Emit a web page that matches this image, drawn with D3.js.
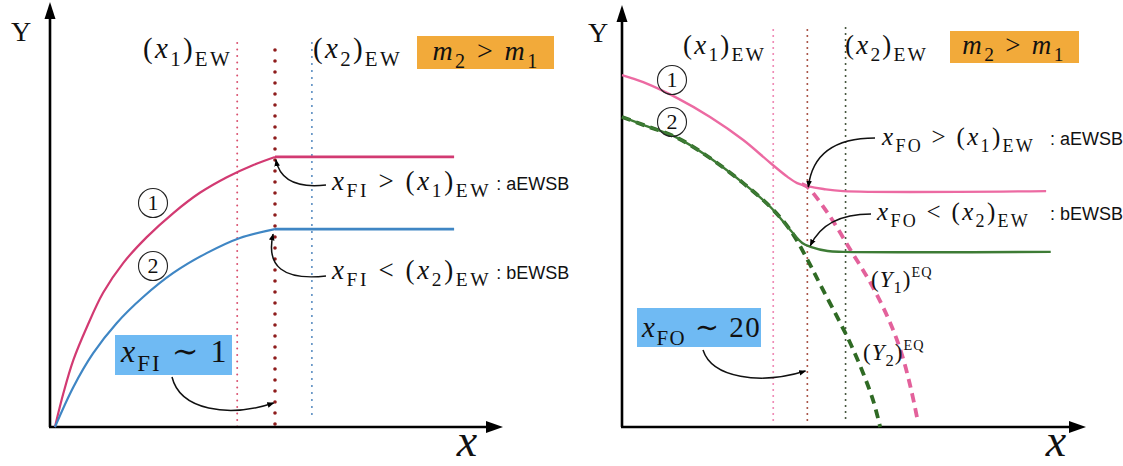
<!DOCTYPE html>
<html>
<head>
<meta charset="utf-8">
<script src="https://cdn.jsdelivr.net/npm/d3@7"></script>
<style>
  html, body { margin: 0; padding: 0; background: #fff; }
  svg { display: block; }
</style>
</head>
<body>
<svg id="chart" width="1123" height="466"></svg>
<script>
// ---------- data (arbitrary units, both axes 0..10) ----------
// Left panel: freeze-in yields
const fiCurve1 = [[0.11,0],[0.30,0.81],[0.52,1.59],[0.82,2.37],[1.18,3.18],[1.63,3.89],[2.15,4.50],[2.74,5.07],[3.33,5.55],[3.93,5.92],[4.52,6.21],[5.00,6.40]];
const fiCurve2 = [[0.11,0],[0.52,0.95],[0.96,1.75],[1.48,2.46],[2.07,3.08],[2.74,3.65],[3.48,4.12],[4.22,4.48],[5.00,4.69]];
const fiPlateau = [6.40, 4.69];          // final yields of curves 1 and 2
const fiPlateauEnd = 8.98;
const fiMarkers = [4.16, 5.00, 5.82];    // (x1)EW, xFI, (x2)EW

// Right panel: freeze-out yields
const foCurve1 = [[0,8.40],[0.46,8.23],[1.20,7.85],[1.91,7.40],[2.63,6.85],[3.22,6.30],[3.59,5.97],[3.80,5.82],[4.02,5.75],[4.37,5.68],[4.80,5.63],[9.20,5.63]];
const foCurve2 = [[0,7.40],[0.46,7.21],[1.20,6.90],[1.91,6.42],[2.63,5.82],[3.22,5.25],[3.65,4.70],[3.91,4.39],[4.09,4.30],[4.46,4.20],[4.80,4.18],[9.30,4.18]];
const foEq1 = [[3.90,5.80],[4.02,5.73],[4.46,5.11],[4.96,4.22],[5.39,3.44],[5.76,2.63],[6.04,1.84],[6.26,0.95],[6.41,0.17]];
const foEq2 = [[0,7.40],[0.46,7.21],[1.20,6.90],[1.91,6.42],[2.63,5.82],[3.22,5.25],[3.65,4.70],[4.02,4.00],[4.30,3.40],[4.67,2.62],[4.96,1.98],[5.24,1.26],[5.46,0.59],[5.60,0]];
const foMarkers = [3.28, 4.02, 4.85];    // (x1)EW, xFO, (x2)EW

const SERIF = "'Liberation Serif', 'DejaVu Serif', serif";
const SANS  = "'Liberation Sans Narrow', 'Liberation Sans', Arial, sans-serif";
const SP = '\u2005';                      // relation spacing

const svg = d3.select('#chart');

const defs = svg.append('defs');
defs.append('marker').attr('id','head').attr('viewBox','0 0 10 10')
  .attr('refX',9).attr('refY',5).attr('markerWidth',7).attr('markerHeight',7)
  .attr('orient','auto-start-reverse').attr('markerUnits','userSpaceOnUse')
  .append('path').attr('d','M0,1 L10,5 L0,9 Z').attr('fill','#000');

// math-style text: segments [text, kind]
function mathText(g, x, y, segs, size, ls, anchor) {
  const t = g.append('text').attr('x', x).attr('y', y)
    .attr('font-family', SERIF).attr('font-size', size).attr('fill', '#111')
    .attr('letter-spacing', ls || 0)
    .attr('text-anchor', anchor || 'start');
  let off = 0;
  segs.forEach(([s, k]) => {
    let target = 0, fs = size, style = 'normal', fam = SERIF, sp = ls || 0;
    if (k === 'i') style = 'italic';
    if (k === 'sub')  { target = size * 0.27; fs = size * 0.72; }
    if (k === 'sup')  { target = -size * 0.45; fs = size * 0.62; }
    if (k === 'sans') { fam = SANS; fs = 18; sp = 0; }
    t.append('tspan').text(s).attr('dy', target - off)
      .attr('font-size', fs).attr('font-style', style).attr('font-family', fam)
      .attr('letter-spacing', sp);
    off = target;
  });
  return t;
}

function axes(g, x, y) {
  const [x0, x1] = x.range(), [y0, y1] = y.range();
  g.append('line').attr('x1', x0).attr('y1', y0).attr('x2', x0).attr('y2', y1 + 10)
    .attr('stroke', '#000').attr('stroke-width', 2.6);
  g.append('line').attr('x1', x0 - 1).attr('y1', y0).attr('x2', x1 - 10).attr('y2', y0)
    .attr('stroke', '#000').attr('stroke-width', 2.6);
  g.append('path').attr('d', `M${x0},${y1 - 3} L${x0 - 5.5},${y1 + 14} L${x0 + 5.5},${y1 + 14} Z`).attr('fill', '#000');
  g.append('path').attr('d', `M${x1 + 3},${y0} L${x1 - 14},${y0 - 6} L${x1 - 14},${y0 + 6} Z`).attr('fill', '#000');
}

function circled(g, cx, cy, label) {
  g.append('circle').attr('cx', cx).attr('cy', cy).attr('r', 14.5)
    .attr('fill', 'none').attr('stroke', '#222').attr('stroke-width', 1.1);
  g.append('text').attr('x', cx).attr('y', cy + 7).attr('text-anchor', 'middle')
    .attr('font-family', SERIF).attr('font-size', 22).attr('fill', '#111').text(label);
}

function box(g, x0, y0, w, h, fill) {
  g.append('rect').attr('x', x0).attr('y', y0).attr('width', w).attr('height', h).attr('fill', fill);
}

function arrow(g, d) {
  g.append('path').attr('d', d).attr('fill', 'none').attr('stroke', '#111')
    .attr('stroke-width', 1.5).attr('marker-end', 'url(#head)');
}

const line = (x, y) => d3.line().x(d => x(d[0])).y(d => y(d[1])).curve(d3.curveCatmullRom.alpha(0.5));

// ================= left panel =================
{
  const g = svg.append('g');
  const x = d3.scaleLinear().domain([0, 10]).range([50, 500]);
  const y = d3.scaleLinear().domain([0, 10]).range([427, 5]);

  // vertical markers
  const mStyle = [
    { c: '#d9506e', w: 2.0, dash: '0,6.5', top: 43, bot: 427 },
    { c: '#8e1c1c', w: 3.6, dash: '0,11', top: 50, bot: 426 },
    { c: '#4f85bd', w: 2.0, dash: '0,7', top: 43, bot: 418 }
  ];
  fiMarkers.forEach((m, i) => {
    const s = mStyle[i];
    g.append('line').attr('x1', x(m)).attr('x2', x(m)).attr('y1', s.top).attr('y2', s.bot)
      .attr('stroke', s.c).attr('stroke-width', s.w).attr('stroke-linecap', 'round')
      .attr('stroke-dasharray', s.dash);
  });

  axes(g, x, y);

  const colors = ['#d23a72', '#3f86c4'];
  [fiCurve1, fiCurve2].forEach((c, i) => {
    g.append('path').attr('d', line(x, y)(c)).attr('fill', 'none')
      .attr('stroke', colors[i]).attr('stroke-width', 2.2);
    const last = c[c.length - 1];
    g.append('line').attr('x1', x(last[0])).attr('y1', y(fiPlateau[i]))
      .attr('x2', x(fiPlateauEnd)).attr('y2', y(fiPlateau[i]))
      .attr('stroke', colors[i]).attr('stroke-width', 2.8);
  });

  circled(g, 153, 203, '1');
  circled(g, 153, 266, '2');

  g.append('text').attr('x', 21).attr('y', 41).attr('text-anchor', 'middle')
    .attr('font-family', SERIF).attr('font-size', 28).attr('fill', '#111').text('Y');
  g.append('text').attr('x', 467).attr('y', 456).attr('text-anchor', 'middle')
    .attr('font-family', SERIF).attr('font-style', 'italic').attr('font-size', 46).attr('fill', '#111').text('x');

  mathText(g, 143, 58, [['(', 'r'], ['x', 'i'], ['1', 'sub'], [')', 'r'], ['EW', 'sub']], 29, 2.3);
  mathText(g, 313, 58, [['(', 'r'], ['x', 'i'], ['2', 'sub'], [')', 'r'], ['EW', 'sub']], 29, 2.3);

  box(g, 417, 36, 137, 33, '#f2aa3a');
  mathText(g, 486, 60, [['m', 'i'], ['2', 'sub'], [SP + '>' + SP, 'r'], ['m', 'i'], ['1', 'sub']], 28, 2.4, 'middle');

  mathText(g, 332, 190, [['x', 'i'], ['FI', 'sub'], [SP + '>' + SP + '(', 'r'], ['x', 'i'], ['1', 'sub'], [')', 'r'], ['EW', 'sub'], [' : aEWSB', 'sans']], 27, 2.6);
  mathText(g, 332, 279, [['x', 'i'], ['FI', 'sub'], [SP + '<' + SP + '(', 'r'], ['x', 'i'], ['2', 'sub'], [')', 'r'], ['EW', 'sub'], [' : bEWSB', 'sans']], 27, 2.6);

  box(g, 115, 335, 117, 40, '#6fbaf3');
  mathText(g, 121, 362, [['x', 'i'], ['FI', 'sub'], [SP + '\u223C' + SP + '1', 'r']], 32, 2);

  arrow(g, `M326,185 Q282,190 ${x(5.02)},${y(6.40) + 3}`);
  arrow(g, `M326,276 Q262,283 ${x(4.98) - 1},${y(4.69) + 5}`);
  arrow(g, `M172,377 C180,410 228,418 ${x(4.97)},${403}`);
}

// ================= right panel =================
{
  const g = svg.append('g');
  const x = d3.scaleLinear().domain([0, 10]).range([622, 1083]);
  const y = d3.scaleLinear().domain([0, 10]).range([427, 8]);

  const mStyle = [
    { c: '#ee7fae', w: 2.0, dash: '0,6', top: 30, bot: 422 },
    { c: '#a44a3c', w: 2.0, dash: '0,6', top: 30, bot: 423 },
    { c: '#3b4d33', w: 2.0, dash: '0,6', top: 28, bot: 422 }
  ];
  foMarkers.forEach((m, i) => {
    const s = mStyle[i];
    g.append('line').attr('x1', x(m)).attr('x2', x(m)).attr('y1', s.top).attr('y2', s.bot)
      .attr('stroke', s.c).attr('stroke-width', s.w).attr('stroke-linecap', 'round')
      .attr('stroke-dasharray', s.dash);
  });

  axes(g, x, y);

  // equilibrium curves (dashed)
  g.append('path').attr('d', line(x, y)(foEq1)).attr('fill', 'none')
    .attr('stroke', '#e3619b').attr('stroke-width', 3.8).attr('stroke-dasharray', '9,6');
  g.append('path').attr('d', line(x, y)(foEq2)).attr('fill', 'none')
    .attr('stroke', '#2f6a24').attr('stroke-width', 3.8).attr('stroke-dasharray', '9,6');

  // actual yields
  g.append('path').attr('d', line(x, y)(foCurve1)).attr('fill', 'none')
    .attr('stroke', '#ec6aa2').attr('stroke-width', 2.4);
  g.append('path').attr('d', line(x, y)(foCurve2)).attr('fill', 'none')
    .attr('stroke', '#3d7b35').attr('stroke-width', 2.4);

  circled(g, 672, 80, '1');
  circled(g, 672, 122, '2');

  g.append('text').attr('x', 598).attr('y', 42).attr('text-anchor', 'middle')
    .attr('font-family', SERIF).attr('font-size', 28).attr('fill', '#111').text('Y');
  g.append('text').attr('x', 1056).attr('y', 456).attr('text-anchor', 'middle')
    .attr('font-family', SERIF).attr('font-style', 'italic').attr('font-size', 46).attr('fill', '#111').text('x');

  mathText(g, 683, 54, [['(', 'r'], ['x', 'i'], ['1', 'sub'], [')', 'r'], ['EW', 'sub']], 27, 2.2);
  mathText(g, 845, 54, [['(', 'r'], ['x', 'i'], ['2', 'sub'], [')', 'r'], ['EW', 'sub']], 27, 2.2);

  box(g, 950, 31, 129, 32, '#f2aa3a');
  mathText(g, 1014, 54, [['m', 'i'], ['2', 'sub'], [SP + '>' + SP, 'r'], ['m', 'i'], ['1', 'sub']], 27, 2.3, 'middle');

  mathText(g, 882, 145, [['x', 'i'], ['FO', 'sub'], [SP + '>' + SP + '(', 'r'], ['x', 'i'], ['1', 'sub'], [')', 'r'], ['EW', 'sub']], 25, 2.3);
  g.append('text').attr('x', 1050).attr('y', 145).attr('font-family', SANS).attr('font-size', 18)
    .attr('fill', '#111').text(': aEWSB');
  mathText(g, 877, 220, [['x', 'i'], ['FO', 'sub'], [SP + '<' + SP + '(', 'r'], ['x', 'i'], ['2', 'sub'], [')', 'r'], ['EW', 'sub']], 25, 2.3);
  g.append('text').attr('x', 1050).attr('y', 220).attr('font-family', SANS).attr('font-size', 18)
    .attr('fill', '#111').text(': bEWSB');

  mathText(g, 871, 287, [['(', 'r'], ['Y', 'i'], ['1', 'sub'], [')', 'r'], ['EQ', 'sup']], 23, 1);
  mathText(g, 863, 360, [['(', 'r'], ['Y', 'i'], ['2', 'sub'], [')', 'r'], ['EQ', 'sup']], 23, 1);

  box(g, 637, 308, 124, 39, '#6fbaf3');
  mathText(g, 642, 337, [['x', 'i'], ['FO', 'sub'], [SP + '\u223C' + SP + '20', 'r']], 29, 1.5);

  arrow(g, `M875,138 Q814,138 ${x(4.02) + 1},${y(5.75) + 1}`);
  arrow(g, `M871,214 Q825,214 ${x(4.02) + 3},${y(4.35) + 1}`);
  arrow(g, `M703,350 C712,378 760,385 ${x(3.98)},${371}`);
}
</script>
</body>
</html>
